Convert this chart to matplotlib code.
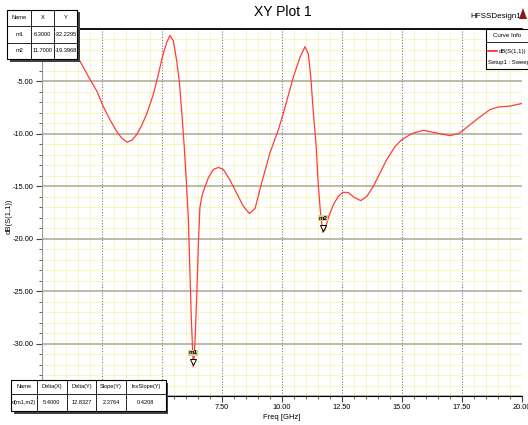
import numpy as np
import matplotlib
matplotlib.use("Agg")
from matplotlib import pyplot as plt
from matplotlib.patches import Rectangle, Polygon
from matplotlib.transforms import ScaledTranslation

plt.rcParams['font.family'] = ['Liberation Sans Narrow', 'Liberation Sans', 'DejaVu Sans']

# S11 sweep (GHz, dB)
freq = [1.0, 1.25, 1.5, 2.0, 2.28, 2.55, 2.83, 3.11, 3.32, 3.55, 3.75, 3.95,
        4.15, 4.36, 4.64, 4.85, 5.03, 5.2, 5.33, 5.47, 5.61, 5.72, 5.82, 5.92,
        6.02, 6.1, 6.16, 6.22, 6.27, 6.3, 6.34, 6.39, 6.45, 6.51, 6.58, 6.65,
        6.72, 6.93, 7.14, 7.35, 7.56, 7.83, 8.11, 8.39, 8.64, 8.88, 9.15, 9.5,
        9.85, 10.05, 10.2, 10.47, 10.75, 10.96, 11.1, 11.2, 11.3, 11.42, 11.51,
        11.61, 11.7, 11.8, 11.93, 12.14, 12.35, 12.53, 12.76, 13.0, 13.28,
        13.53, 13.8, 14.08, 14.36, 14.71, 14.99, 15.4, 15.89, 16.45, 17.0,
        17.35, 17.55, 18.1, 18.67, 19.0, 19.5, 20.0]
s11 = [-1.2, -1.9, -2.73, -4.8, -5.9, -7.37, -8.64, -9.76, -10.4, -10.8, -10.6, -10.05,
       -9.2, -8.13, -6.22, -4.3, -2.54, -1.26, -0.62, -1.1, -3.0, -4.93, -7.8, -11.0,
       -14.8, -18.2, -22.9, -27.5, -30.3, -32.2295, -31.3, -29.0, -25.3, -20.8, -17.0, -16.1,
       -15.5, -14.2, -13.4, -13.2, -13.4, -14.4, -15.66, -16.9, -17.6, -17.1, -14.7, -11.8,
       -9.6, -8.1, -6.85, -4.6, -2.7, -1.68, -2.4, -4.6, -7.8, -11.0, -14.8,
       -17.7, -19.3968, -19.1, -18.0, -16.75, -15.95, -15.57, -15.6, -16.05, -16.37,
       -15.98, -15.03, -13.75, -12.47, -11.2, -10.56, -9.98, -9.66, -9.92, -10.17,
       -9.98, -9.66, -8.64, -7.68, -7.45, -7.35, -7.1]
curve_name = 'dB(S(1,1))'
setup_name = 'Setup1 : Sweep'

marker_names = ['m1', 'm2']
marker_x = [6.3, 11.7]
marker_y = [-32.2295, -19.3968]

fig = plt.figure(figsize=(5.28, 4.25), dpi=100)
W, H = 528, 425
ax = fig.add_axes([42 / W, 1 - 396 / H, 480 / W, 367 / H])

ax.plot(freq, s11, color='#ff3b3b', lw=0.9, zorder=3)
ax.set_xlim(0, 20)
ax.set_ylim(-35, 0)
ax.set_xticks(np.arange(0, 20.01, 2.5))
ax.set_xticks(np.arange(0, 20.01, 0.5), minor=True)
ax.set_yticks(np.arange(-35, 0.01, 5))
ax.set_yticks(np.arange(-35, 0.01, 1), minor=True)
ax.xaxis.set_major_formatter(lambda v, p: f'{v:.2f}')
ax.yaxis.set_major_formatter(lambda v, p: f'{v:.2f}')

ax.set_axisbelow(True)
ax.grid(which='minor', color='#f8f4b0', lw=0.55)
ax.grid(axis='y', which='major', color='#a8a88e', lw=1.1, ls='-')
ax.grid(axis='x', which='major', color='#777777', lw=0.8, ls=(0, (1, 1.5)))

ax.tick_params(which='both', direction='out', color='#444444', labelsize=5.3, pad=2)
ax.tick_params(which='major', length=4)
ax.tick_params(which='minor', length=2.5)
for side in ['top', 'bottom']:
    ax.spines[side].set_color('black')
ax.spines['top'].set_linewidth(1.3)
ax.spines['left'].set_color('#999999')
ax.spines['right'].set_visible(False)

ax.set_xlabel('Freq [GHz]', fontsize=5.5, labelpad=2)
ax.set_ylabel(curve_name, fontsize=5.5)
ax.yaxis.set_label_coords(-29 / 480, 0.49)

# markers: triangle sits just above the point, name above that
tri = ax.transData + ScaledTranslation(0, 3.5 / 72, fig.dpi_scale_trans)
for name, mx, my in zip(marker_names, marker_x, marker_y):
    ax.plot(mx, my, marker='v', ms=4.5, mfc='white', mec='black', mew=0.7,
            transform=tri, zorder=5, clip_on=False)
    ax.annotate(name, xy=(mx, my), xytext=(0, 14), textcoords='offset pixels',
                ha='center', va='center', fontsize=4.5, fontweight='bold',
                bbox=dict(fc='#d4d09a', ec='none', pad=0.4), zorder=6)

fig.text(283 / W, 1 - 12 / H, 'XY Plot 1', ha='center', va='center', fontsize=10)
fig.text(496 / W, 1 - 16 / H, 'HFSSDesign1', ha='center', va='center', fontsize=5.8)

# overlay in pixel coords for tables and the curve info box
ov = fig.add_axes([0, 0, 1, 1], zorder=10)
ov.set_xlim(0, W)
ov.set_ylim(H, 0)
ov.axis('off')
ov.patch.set_alpha(0)

ov.add_patch(Polygon([(519, 19), (523, 8), (527, 19)], closed=True,
                     fc='#8b1a1a', ec='none'))


def draw_table(x0, y0, col_w, row_h, rows, fs=4.4):
    tw, th = sum(col_w), sum(row_h)
    ov.add_patch(Rectangle((x0 + 2.5, y0 + 2.5), tw, th, fc='#404040', ec='none'))
    ov.add_patch(Rectangle((x0, y0), tw, th, fc='white', ec='black', lw=0.8))
    xs = np.concatenate([[x0], x0 + np.cumsum(col_w)])
    ys = np.concatenate([[y0], y0 + np.cumsum(row_h)])
    for x in xs[1:-1]:
        ov.plot([x, x], [y0, y0 + th], color='black', lw=0.6)
    for y in ys[1:-1]:
        ov.plot([x0, x0 + tw], [y, y], color='black', lw=0.6)
    for r, row in enumerate(rows):
        for c, txt in enumerate(row):
            ov.text((xs[c] + xs[c + 1]) / 2, (ys[r] + ys[r + 1]) / 2, txt,
                    ha='center', va='center', fontsize=fs)


marker_rows = [['Name', 'X', 'Y']]
for name, mx, my in zip(marker_names, marker_x, marker_y):
    marker_rows.append([name, f'{mx:.4f}', f'{my:.4f}'])
draw_table(7.3, 9.5, [23.7, 23.3, 22.7], [16.5, 16.5, 16.5], marker_rows, fs=4.1)

dx = marker_x[1] - marker_x[0]
dy = marker_y[1] - marker_y[0]
delta_rows = [['Name', 'Delta(X)', 'Delta(Y)', 'Slope(Y)', 'InvSlope(Y)'],
              [f'd({marker_names[0]},{marker_names[1]})', f'{dx:.4f}', f'{dy:.4f}',
               f'{dy / dx:.4f}', f'{dx / dy:.4f}']]
draw_table(11, 380, [25.7, 30, 29.3, 30, 39.7], [13.5, 17.5], delta_rows, fs=4.1)

# curve info box
ov.add_patch(Rectangle((486, 29), 45, 40, fc='white', ec='black', lw=0.8))
ov.plot([486, 531], [42.3, 42.3], color='black', lw=0.6)
ov.text(507, 35.5, 'Curve Info', ha='center', va='center', fontsize=4.4)
ov.plot([487.5, 496.5], [51, 51], color='#ff2020', lw=1.2)
ov.text(498.5, 51, curve_name, ha='left', va='center', fontsize=4.2)
ov.text(487.5, 62, setup_name, ha='left', va='center', fontsize=4.2)

fig.savefig('out.png', dpi=100)
